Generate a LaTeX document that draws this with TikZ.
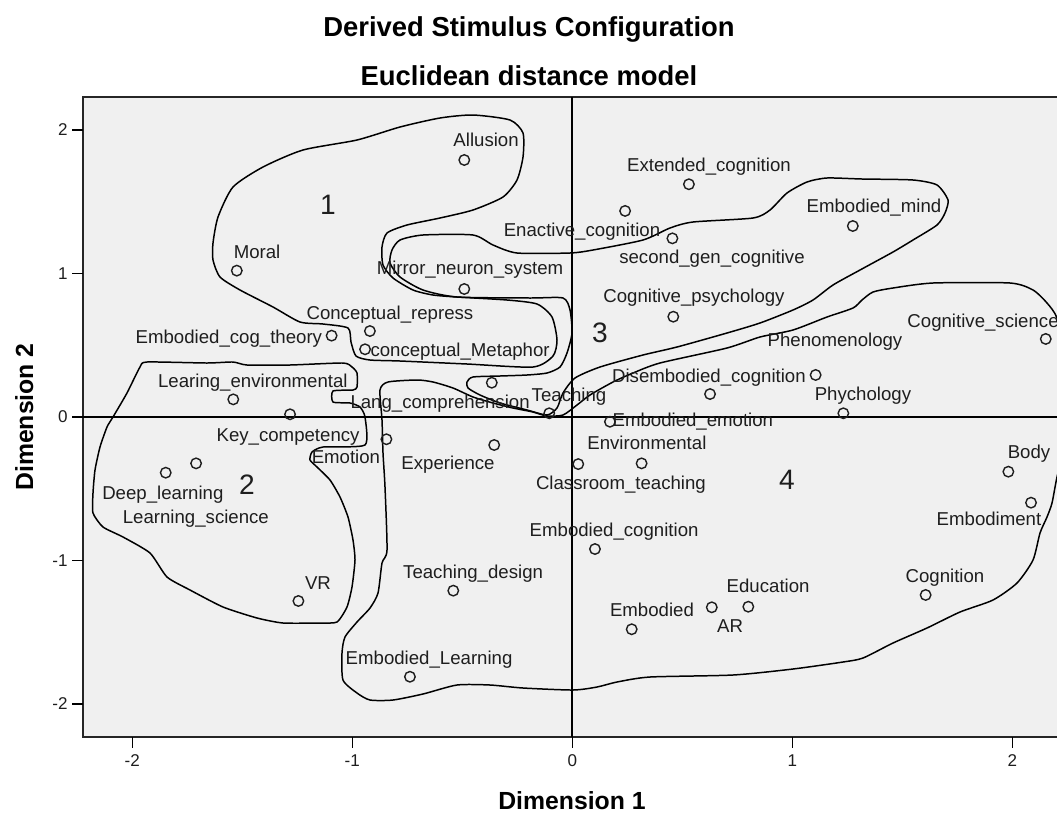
\documentclass[tikz,border=0pt]{standalone}
\usepackage{fontspec}
\setmainfont{Liberation Sans}
\definecolor{plotbg}{HTML}{F0F0F0}
\definecolor{ink}{HTML}{1E1E1E}
\tikzset{
  pt/.style={circle, draw=ink, line width=0.8pt, minimum size=2.1mm, inner sep=0pt},
  lbl/.style={text=ink, inner sep=0pt, text height=0.7em, text depth=0pt, font=\fontsize{10.6}{12}\selectfont},
  grp/.style={draw=black, line width=0.85pt},
  grpnum/.style={text=ink, inner sep=0pt, font=\fontsize{16}{18}\selectfont},
  axtick/.style={line width=0.9pt},
  ticklbl/.style={text=ink, inner sep=0pt, font=\fontsize{9.7}{11}\selectfont},
  axtitle/.style={inner sep=0pt, font=\bfseries\fontsize{14.1}{16}\selectfont},
  ttl/.style={inner sep=0pt, font=\bfseries\fontsize{15.6}{18}\selectfont}
}
\begin{document}
\begin{tikzpicture}[x=0.2mm, y=-0.2mm]
        % Tela
        \clip (0,0) rectangle (1057,812);
        \fill[white] (0,0) rectangle (1057,812);

        % Titoli
        \node[ttl, anchor=base] (title) at (529,36) {Derived Stimulus Configuration};
        \node[ttl, anchor=base] (subtitle) at (529,85) {Euclidean distance model};

        % Area del grafico e assi
        \draw[fill=plotbg, draw=black!85, line width=0.9pt] (83,97) rectangle (1061,737);
        \draw[line width=1.1pt] (83,417) -- (1061,417);
        \draw[line width=1.1pt] (572.3,97) -- (572.3,737);

        % Tacche
        \foreach \k [count=\i] in {-2,-1,0,1,2} {
            \draw[axtick] ({572.3+220*(\k)},737) -- ({572.3+220*(\k)},748);
            \node[ticklbl] (xt\i) at ({572.3+220*(\k)},761) {\k};
        }
        \foreach \k [count=\i] in {2,1,0,-1,-2} {
            \draw[axtick] (72,{417-143.5*(\k)}) -- (83,{417-143.5*(\k)});
            \node[ticklbl, anchor=east] (yt\i) at (68,{417-143.5*(\k)}) {\k};
        }
        \node[axtitle, anchor=base] (xlab) at (572,809) {Dimension 1};
        \node[axtitle, anchor=base, rotate=90] (ylab) at (33,417) {Dimension 2};

        % Gruppo 1
        \draw[grp] plot[smooth cycle, tension=0.4] coordinates {
            (213,243) (218,217) (233,187) (263,167) (303,150) (357,140) (400,127)
            (440,118) (473,115) (510,120) (523,133) (523,157) (517,180) (503,197)
            (473,210) (440,218) (407,225) (387,233) (382,247) (383,265) (393,278)
            (413,290) (433,295) (457,297) (507,300) (537,304) (552,317) (557,340)
            (553,356) (533,367) (467,364) (400,361) (370,360) (356,356) (351,342)
            (348,328) (323,324) (300,322) (273,307) (240,290) (220,277) (213,260)};

        % Gruppo 2
        \draw[grp] plot[smooth cycle, tension=0.35] coordinates {
            (140,367) (147,362) (207,363) (233,362) (247,365) (290,365) (343,363)
            (352,367) (357,373) (357,387) (353,390) (333,391) (333,402) (350,403)
            (360,407) (365,417) (365,445) (323,447) (312,452) (310,460) (317,467)
            (330,480) (340,497) (348,517) (353,540) (355,560) (352,587) (347,607)
            (337,622) (320,623) (283,623) (257,618) (223,607) (190,590) (167,577)
            (150,553) (123,537) (103,527) (93,513) (93,493) (95,470) (100,447)
            (107,427) (113,417) (127,393)};

        % Gruppo 3
        \draw[grp] plot[smooth cycle, tension=0.4] coordinates {
            (570,253) (593,250) (643,240) (670,228) (693,222) (753,218) (770,210)
            (787,193) (807,182) (827,178) (862,179) (913,180) (937,185) (948,200)
            (945,213) (937,225) (913,240) (893,252) (860,270) (833,285) (813,300)
            (793,310) (760,323) (727,333) (677,347) (643,355) (600,367) (575,378)
            (563,393) (557,408) (547,415) (527,410) (500,403) (480,395) (468,388)
            (467,382) (473,377) (500,376) (527,375) (547,373) (560,367) (567,353)
            (572,333) (570,310) (563,298) (530,298) (457,297) (423,290) (400,277)
            (390,263) (392,250) (400,240) (423,235) (473,235) (493,245) (517,253)};

        % Gruppo 4
        \draw[grp] plot[smooth cycle, tension=0.4] coordinates {
            (380,390) (382,420) (383,453) (385,487) (387,550) (382,563) (378,593)
            (370,608) (357,622) (345,637) (342,653) (343,680) (357,693) (370,700)
            (393,700) (423,694) (457,685) (490,685) (523,688) (573,690) (597,687)
            (617,682) (650,677) (733,675) (793,669) (843,662) (863,658) (893,643)
            (927,628) (960,612) (993,600) (1017,583) (1033,560) (1040,533)
            (1047,517) (1052,503) (1057,477) (1070,420) (1068,360) (1057,318)
            (1047,303) (1033,290) (1010,283) (933,283) (893,288) (873,292)
            (862,300) (853,308) (827,317) (793,330) (760,337) (727,348) (660,363)
            (633,373) (613,382) (590,395) (577,405) (563,415) (547,416) (533,412)
            (513,408) (493,403) (473,397) (453,388) (433,382) (417,380) (388,382)};

        % Stimoli (coordinate delle dimensioni)
        \begin{scope}[shift={(572.3,417)}, x=44mm, y=28.7mm]
            \foreach \nm/\px/\py/\lx/\ly/\txt in {
                allusion/-0.491/1.791/-0.392/1.930/Allusion,
                moral/-1.525/1.020/-1.433/1.150/Moral,
                mirror/-0.491/0.892/-0.465/1.038/Mirror\_neuron\_system,
                crepress/-0.920/0.599/-0.829/0.725/Conceptual\_repress,
                ecogtheory/-1.094/0.567/-1.561/0.557/Embodied\_cog\_theory,
                cmetaphor/-0.942/0.472/-0.510/0.467/conceptual\_Metaphor,
                learenv/-1.541/0.123/-1.452/0.251/Learing\_environmental,
                keycomp/-1.283/0.019/-1.292/-0.125/Key\_competency,
                langcomp/-0.366/0.239/-0.601/0.105/Lang\_comprehension,
                teaching/-0.105/0.026/-0.015/0.153/Teaching,
                emotion/-0.845/-0.155/-1.029/-0.279/Emotion,
                experience/-0.355/-0.195/-0.565/-0.321/Experience,
                deeplearn/-1.848/-0.388/-1.861/-0.530/Deep\_learning,
                learnsci/-1.710/-0.323/-1.711/-0.697/Learning\_science,
                vr/-1.245/-1.282/-1.156/-1.157/VR,
                tdesign/-0.541/-1.210/-0.451/-1.080/Teaching\_design,
                elearning/-0.738/-1.810/-0.651/-1.679/Embodied\_Learning,
                extcog/0.530/1.622/0.621/1.756/Extended\_cognition,
                enactcog/0.240/1.436/0.044/1.303/Enactive\_cognition,
                secondgen/0.455/1.245/0.635/1.115/second\_gen\_cognitive,
                emind/1.275/1.331/1.371/1.470/Embodied\_mind,
                cogpsych/0.459/0.699/0.553/0.843/Cognitive\_psychology,
                cogsci/2.152/0.544/1.867/0.669/Cognitive\_science,
                phenom/1.106/0.293/1.194/0.537/Phenomenology,
                disemb/0.626/0.160/0.621/0.286/Disembodied\_cognition,
                phych/1.232/0.026/1.321/0.160/Phychology,
                eemotion/0.171/-0.033/0.548/-0.021/Embodied\_emotion,
                environ/0.315/-0.323/0.339/-0.181/Environmental,
                classroom/0.027/-0.328/0.221/-0.460/Classroom\_teaching,
                ecognition/0.103/-0.920/0.190/-0.787/Embodied\_cognition,
                education/0.800/-1.322/0.890/-1.178/Education,
                ar/0.634/-1.326/0.717/-1.456/AR,
                embodied/0.270/-1.479/0.362/-1.345/Embodied,
                cognition/1.606/-1.240/1.694/-1.108/Cognition,
                body/1.982/-0.381/2.076/-0.244/Body,
                embodiment/2.085/-0.597/1.894/-0.711/Embodiment}
            {
                \node[pt] (\nm) at (\px,\py) {};
                \node[lbl] (t\nm) at (\lx,\ly) {\txt};
            }

            % Numeri dei gruppi
            \node[grpnum] (g1) at (-1.111,1.477) {1};
            \node[grpnum] (g2) at (-1.479,-0.474) {2};
            \node[grpnum] (g3) at (0.126,0.585) {3};
            \node[grpnum] (g4) at (0.976,-0.439) {4};
        \end{scope}
\end{tikzpicture}
\end{document}
